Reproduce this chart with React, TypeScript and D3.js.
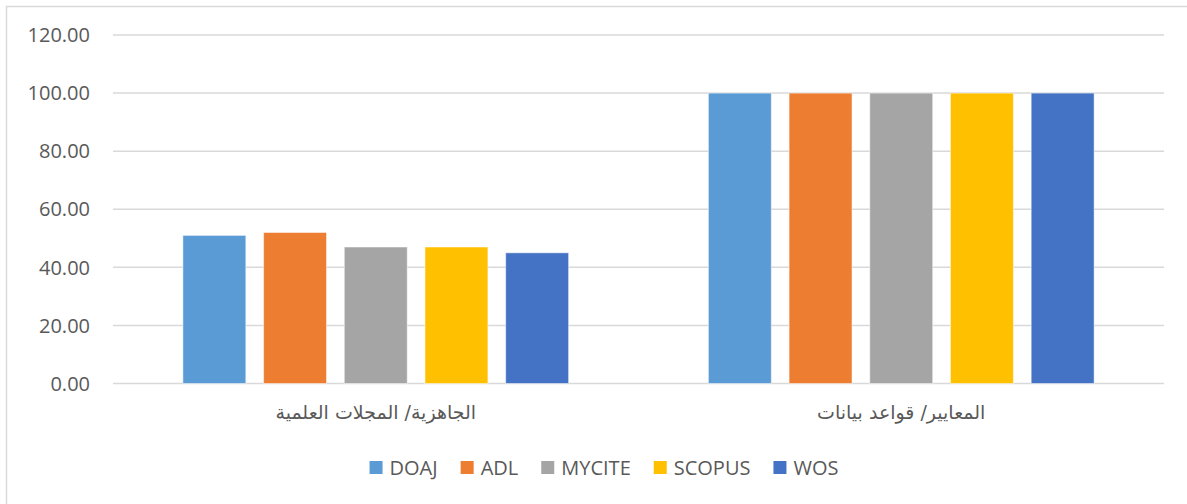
import React, { useEffect, useRef } from "react";
import * as d3 from "d3";

// chart data
const categories = ["الجاهزية/ المجلات العلمية", "المعايير/ قواعد بيانات"];
const seriesNames = ["DOAJ", "ADL", "MYCITE", "SCOPUS", "WOS"];
const seriesColors = ["#5B9BD5", "#ED7D31", "#A5A5A5", "#FFC000", "#4472C4"];
const readinessValues = [51, 52, 47, 47, 45];
const standardsValues = [100, 100, 100, 100, 100];
const yTicks = [0, 20, 40, 60, 80, 100, 120];

const W = 1187,
  H = 504;
const textColor = "#595959";
const gridColor = "#D9D9D9";

export default function App() {
  const ref = useRef<SVGSVGElement>(null);

  useEffect(() => {
    const svg = d3.select(ref.current);
    svg.selectAll("*").remove();

    const margin = { left: 113, right: 23, top: 35, bottom: 120 };
    const rows = [readinessValues, standardsValues];

    // outer frame, runs off the right/bottom like the original
    svg
      .append("rect")
      .attr("x", 6.5)
      .attr("y", 6.5)
      .attr("width", W + 20)
      .attr("height", H + 20)
      .attr("fill", "#fff")
      .attr("stroke", gridColor)
      .attr("stroke-width", 1.5);

    var y = d3
      .scaleLinear()
      .domain([0, 120])
      .range([H - margin.bottom - 0.5, margin.top]);

    var x0 = d3
      .scaleBand()
      .domain(categories)
      .range([margin.left, W - margin.right])
      .padding(0);

    var x1 = d3
      .scaleBand()
      .domain(seriesNames)
      .range([0, x0.bandwidth()])
      .paddingInner(0.22)
      .paddingOuter(0.866);

    // gridlines
    svg
      .append("g")
      .selectAll("line")
      .data(yTicks)
      .join("line")
      .attr("x1", margin.left)
      .attr("x2", W - margin.right)
      .attr("y1", (d) => y(d))
      .attr("y2", (d) => y(d))
      .attr("stroke", gridColor)
      .attr("stroke-width", 1.5);

    // y labels
    svg
      .append("g")
      .selectAll("text")
      .data(yTicks)
      .join("text")
      .attr("x", 90)
      .attr("y", (d) => y(d))
      .attr("dy", "0.36em")
      .attr("text-anchor", "end")
      .attr("font-family", "'Open Sans', sans-serif")
      .attr("font-size", 20)
      .attr("fill", textColor)
      .text((d) => d3.format(".2f")(d));

    // bars
    const groups = svg
      .append("g")
      .selectAll("g")
      .data(categories)
      .join("g")
      .attr("transform", (d) => "translate(" + x0(d) + ",0)");

    groups
      .selectAll("rect")
      .data((d, i) => rows[i].map((v, j) => ({ name: seriesNames[j], v, c: seriesColors[j] })))
      .join("rect")
      .attr("x", (d) => x1(d.name)!)
      .attr("width", x1.bandwidth())
      .attr("y", (d) => y(d.v))
      .attr("height", (d) => y(0) - y(d.v))
      .attr("fill", (d) => d.c)
      .attr("stroke", "#fff")
      .attr("stroke-opacity", 0.5)
      .attr("stroke-width", 1);

    // category labels
    svg
      .append("g")
      .selectAll("text")
      .data(categories)
      .join("text")
      .attr("x", (d) => x0(d)! + x0.bandwidth() / 2)
      .attr("y", 419)
      .attr("text-anchor", "middle")
      .attr("direction", "rtl")
      .attr("font-family", "'DejaVu Sans', sans-serif")
      .attr("font-size", 19)
      .attr("fill", textColor)
      .text((d) => d);

    // legend: measure then centre
    const leg = svg.append("g");
    const sq = 13,
      gapText = 7,
      gapItem = 23;
    let cx = 0;
    seriesNames.forEach((name, i) => {
      const g = leg.append("g").attr("transform", "translate(" + cx + ",0)");
      g.append("rect")
        .attr("x", 0)
        .attr("y", -sq / 2)
        .attr("width", sq)
        .attr("height", sq)
        .attr("fill", seriesColors[i]);
      const t = g
        .append("text")
        .attr("x", sq + gapText)
        .attr("y", 0)
        .attr("dy", "0.36em")
        .attr("font-family", "'Open Sans', sans-serif")
        .attr("font-size", 20)
        .attr("fill", textColor)
        .text(name);
      const tw = (t.node() as SVGTextElement).getComputedTextLength();
      cx += sq + gapText + tw + gapItem;
    });
    const total = cx - gapItem;
    leg.attr("transform", "translate(" + (604 - total / 2) + ",467.5)");
  }, []);

  return (
    <svg
      ref={ref}
      width={W}
      height={H}
      style={{ position: "absolute", left: 0, top: 0, background: "#fff" }}
    />
  );
}
